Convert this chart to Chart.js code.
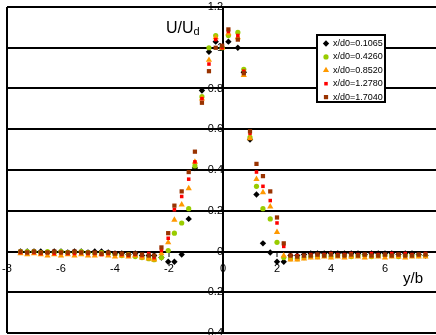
<!DOCTYPE html>
<html>
<head>
<meta charset="utf-8">
<title>Velocity profiles</title>
<script src="https://cdn.jsdelivr.net/npm/chart.js@4.4.1/dist/chart.umd.min.js"></script>
<style>
    html, body { margin: 0; padding: 0; background: #fff; overflow: hidden; }
    canvas { display: block; }
</style>
</head>
<body>
<canvas id="profileChart" width="446" height="340"></canvas>
<script>
// y/b stations (shared by every traverse)
const yb = [
    -7.5, -7.25, -7.0, -6.75, -6.5, -6.25, -6.0, -5.75, -5.5, -5.25,
    -5.0, -4.75, -4.5, -4.25, -4.0, -3.75, -3.5, -3.25, -3.0, -2.75,
    -2.55, -2.28, -2.03, -1.8, -1.53, -1.27, -1.04, -0.78, -0.52, -0.27,
    -0.03, 0.2, 0.55, 0.77, 1.0, 1.24, 1.48, 1.75, 2.0, 2.25, 2.5,
    2.75, 3.0, 3.25, 3.5, 3.75, 4.0, 4.25, 4.5, 4.75, 5.0,
    5.25, 5.5, 5.75, 6.0, 6.25, 6.5, 6.75, 7.0, 7.25, 7.5
];

// U/Ud at each station, one array per x/d0
const u0_1065 = [
    0.0, 0.0, 0.0, 0.0, -0.005, 0.0, 0.0, -0.005, 0.0, 0.0,
    -0.005, 0.0, 0.0, -0.005, -0.01, -0.01, -0.015, -0.01, -0.02, -0.02,
    -0.02, -0.03, -0.05, -0.05, -0.015, 0.16, 0.41, 0.79, 0.98, 1.03,
    1.0, 1.03, 1.0, 0.88, 0.55, 0.28, 0.04, -0.005, -0.05, -0.05, -0.02,
    -0.02, -0.015, -0.01, -0.01, -0.01, -0.01, -0.01, -0.01, -0.01, -0.01,
    -0.015, -0.01, -0.01, -0.01, -0.01, -0.015, -0.01, -0.01, -0.015, -0.02
];
const u0_4260 = [
    0.0, 0.0, 0.0, -0.005, 0.0, -0.005, 0.0, -0.005, -0.005, 0.0,
    -0.005, -0.01, -0.005, -0.01, -0.015, -0.02, -0.015, -0.025, -0.03, -0.035,
    -0.04, -0.03, 0.005, 0.09, 0.14, 0.21, 0.42, 0.76, 1.0, 1.06,
    1.0, 1.06, 1.075, 0.894, 0.56, 0.32, 0.21, 0.16, 0.045, -0.03, -0.035,
    -0.035, -0.03, -0.025, -0.025, -0.02, -0.025, -0.02, -0.02, -0.025, -0.02,
    -0.02, -0.025, -0.02, -0.02, -0.02, -0.025, -0.02, -0.02, -0.02, -0.02
];
const u0_8520 = [
    -0.01, -0.015, -0.01, -0.015, -0.02, -0.015, -0.02, -0.015, -0.02, -0.015,
    -0.02, -0.02, -0.015, -0.02, -0.025, -0.02, -0.025, -0.02, -0.03, -0.035,
    -0.04, -0.01, 0.045, 0.155, 0.23, 0.31, 0.44, 0.75, 0.94, 1.05,
    1.0, 1.07, 1.05, 0.865, 0.555, 0.355, 0.29, 0.22, 0.095, -0.02, -0.04,
    -0.04, -0.035, -0.03, -0.03, -0.025, -0.03, -0.025, -0.03, -0.025, -0.025,
    -0.03, -0.025, -0.025, -0.03, -0.025, -0.025, -0.03, -0.025, -0.025, -0.025
];
const u1_2780 = [
    -0.005, -0.005, -0.005, -0.01, -0.005, -0.01, -0.005, -0.01, -0.01, -0.005,
    -0.01, -0.01, -0.015, -0.01, -0.01, -0.015, -0.02, -0.015, -0.02, -0.01,
    -0.03, 0.005, 0.065, 0.205, 0.27, 0.355, 0.44, 0.75, 0.92, 1.04,
    1.0, 1.08, 1.06, 0.885, 0.58, 0.39, 0.32, 0.25, 0.14, 0.025, -0.02,
    -0.02, -0.02, -0.015, -0.015, -0.015, -0.01, -0.015, -0.015, -0.01, -0.015,
    -0.015, -0.01, -0.015, -0.015, -0.01, -0.015, -0.01, -0.015, -0.015, -0.01
];
const u1_7040 = [
    0.0, -0.005, 0.0, -0.005, -0.005, 0.0, -0.005, -0.005, 0.0, -0.005,
    -0.005, -0.005, -0.01, -0.005, -0.01, -0.01, -0.015, -0.01, -0.015, -0.02,
    -0.02, 0.02, 0.09, 0.225, 0.295, 0.39, 0.49, 0.73, 0.885, 1.0,
    1.01, 1.09, 1.04, 0.875, 0.59, 0.43, 0.37, 0.295, 0.167, 0.04, -0.02,
    -0.025, -0.02, -0.02, -0.015, -0.02, -0.015, -0.02, -0.02, -0.015, -0.02,
    -0.015, -0.02, -0.02, -0.015, -0.02, -0.015, -0.02, -0.02, -0.015, -0.015
];

const seriesLabels = ['x/d0=0.1065', 'x/d0=0.4260', 'x/d0=0.8520', 'x/d0=1.2780', 'x/d0=1.7040'];
const xTickLabels = ['-8', '-6', '-4', '-2', '0', '2', '4', '6', '8'];
const yTickLabels = ['-0.4', '-0.2', '0', '0.2', '0.4', '0.6', '0.8', '1', '1.2'];

const FONT = '"Liberation Sans", Arial, sans-serif';

function toPoints(xs, ys) {
    return xs.map((x, i) => ({ x: x, y: ys[i] }));
}

// fallback marker drawing for the legend box
function drawMarker(ctx, style, color, x, y, r) {
    ctx.fillStyle = color;
    if (Chart.helpers && Chart.helpers.drawPoint) {
        Chart.helpers.drawPoint(ctx, { pointStyle: style, radius: r, rotation: 0, borderWidth: 0 }, x, y);
        return;
    }
    ctx.beginPath();
    if (style === 'circle') {
        ctx.arc(x, y, r, 0, Math.PI * 2);
    } else if (style === 'rectRot') {
        ctx.moveTo(x, y - r); ctx.lineTo(x + r, y); ctx.lineTo(x, y + r); ctx.lineTo(x - r, y);
    } else if (style === 'triangle') {
        ctx.moveTo(x, y - r); ctx.lineTo(x + r * 0.87, y + r / 2); ctx.lineTo(x - r * 0.87, y + r / 2);
    } else {
        const s = r * Math.SQRT1_2;
        ctx.rect(x - s, y - s, 2 * s, 2 * s);
    }
    ctx.closePath();
    ctx.fill();
}

// boxed legend and the two axis captions
const captionsPlugin = {
    id: 'captions',
    afterDraw(chart) {
        const ctx = chart.ctx;
        ctx.save();

        ctx.fillStyle = '#000';
        ctx.textBaseline = 'alphabetic';
        ctx.font = '16px ' + FONT;
        ctx.fillText('U/U', 166, 33);
        const uw = ctx.measureText('U/U').width;
        ctx.font = '11px ' + FONT;
        ctx.fillText('d', 166 + uw, 35);

        ctx.font = '15px ' + FONT;
        ctx.fillText('y/b', 403, 283);

        const left = 317, top = 35, w = 68, h = 67;
        ctx.fillStyle = '#fff';
        ctx.fillRect(left, top, w, h);
        ctx.strokeStyle = '#000';
        ctx.lineWidth = 2;
        ctx.strokeRect(left, top, w, h);

        ctx.font = '9px ' + FONT;
        ctx.textBaseline = 'middle';
        chart.data.datasets.forEach((ds, i) => {
            const cy = top + 8.5 + i * 13.4;
            drawMarker(ctx, ds.pointStyle, ds.backgroundColor, left + 9, cy, ds.pointRadius);
            ctx.fillStyle = '#000';
            ctx.fillText(ds.label, left + 16, cy);
        });
        ctx.restore();
    }
};

// axes cross inside the plot, so their labels shouldn't shrink it
function noScalePadding(scale) {
    scale.paddingTop = 0;
    scale.paddingBottom = 0;
    scale.paddingLeft = 0;
    scale.paddingRight = 0;
}

const seriesValues = [u0_1065, u0_4260, u0_8520, u1_2780, u1_7040];
const pointStyles = ['rectRot', 'circle', 'triangle', 'rect', 'rect'];
const pointSizes = [3.2, 2.6, 3.6, 2.5, 3.0];
const colors = ['#000000', '#99cc00', '#ff9900', '#ff0000', '#993300'];

const datasets = seriesValues.map((vals, i) => ({
    label: seriesLabels[i],
    data: toPoints(yb, vals),
    pointStyle: pointStyles[i],
    pointRadius: pointSizes[i],
    backgroundColor: colors[i],
    borderColor: colors[i],
    pointBorderWidth: 0,
    showLine: false,
    order: seriesValues.length - i   // later traverses sit on top
}));

new Chart(document.getElementById('profileChart'), {
    type: 'scatter',
    data: { datasets: datasets },
    options: {
        responsive: false,
        animation: false,
        events: [],
        layout: { padding: { left: 7, top: 7, right: 7, bottom: 7 } },
        plugins: {
            legend: { display: false },
            tooltip: { enabled: false }
        },
        scales: {
            x: {
                type: 'linear',
                min: -8,
                max: 8,
                position: { y: 0 },
                afterBuildTicks: axis => { axis.ticks = xTickLabels.map(t => ({ value: parseFloat(t) })); },
                afterFit: noScalePadding,
                ticks: {
                    callback: (v, i) => xTickLabels[i],
                    font: { family: FONT, size: 11 },
                    color: '#000',
                    padding: 7,
                    maxRotation: 0,
                    autoSkip: false
                },
                grid: {
                    color: c => (c.tick && c.tick.value === -8) ? '#000' : 'rgba(0,0,0,0)',
                    lineWidth: 2,
                    tickLength: 4,
                    tickColor: '#000',
                    tickWidth: 1
                },
                border: { display: true, color: '#000', width: 2 }
            },
            y: {
                type: 'linear',
                min: -0.4,
                max: 1.2,
                position: { x: 0 },
                afterBuildTicks: axis => { axis.ticks = yTickLabels.map(t => ({ value: parseFloat(t) })); },
                afterFit: noScalePadding,
                ticks: {
                    callback: (v, i) => yTickLabels[i],
                    font: { family: FONT, size: 11 },
                    color: '#000',
                    padding: 6,
                    autoSkip: false
                },
                grid: {
                    color: '#000',
                    lineWidth: 2,
                    tickLength: 4,
                    tickColor: '#000',
                    tickWidth: 1
                },
                border: { display: true, color: '#000', width: 2 }
            }
        }
    },
    plugins: [captionsPlugin]
});
</script>
</body>
</html>
